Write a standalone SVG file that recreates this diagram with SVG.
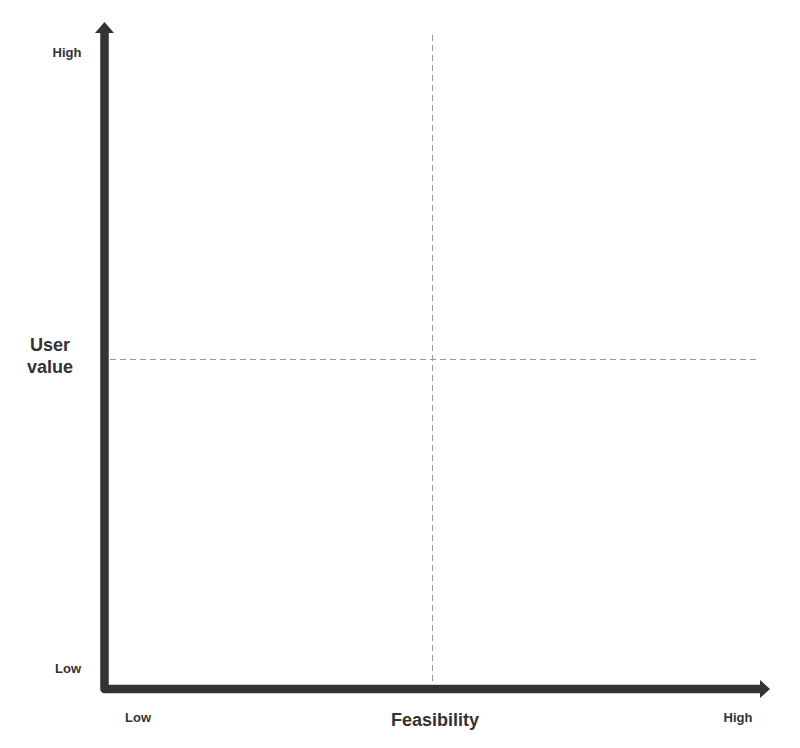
<svg xmlns="http://www.w3.org/2000/svg" width="800" height="748" viewBox="0 0 800 748">
<style>
.axis{stroke:#333;stroke-width:8.5;fill:none;stroke-linejoin:round}
.head{fill:#333}
.dash{stroke:#999;stroke-width:1;stroke-dasharray:6 4;fill:none}
.sm{font-family:"Liberation Sans",Arial,sans-serif;font-weight:bold;font-size:13px;fill:#333;text-anchor:middle}
.lg{font-family:"Liberation Sans",Arial,sans-serif;font-weight:bold;font-size:18px;fill:#333;text-anchor:middle}
</style>
<rect width="800" height="748" fill="#fff"/>
<g id="connectors">
<path class="dash" d="M432.5 35 V685"/>
<path class="dash" d="M110 359.5 H757"/>
<path class="axis" d="M104.5 32 V689 H761"/>
<polygon class="head" points="95,33 104.5,22 114,33"/>
<polygon class="head" points="760,680 770,689 760,698"/>
</g>
<g id="y-high"><text class="sm" x="67" y="57">High</text></g>
<g id="y-low"><text class="sm" x="68" y="673">Low</text></g>
<g id="y-label"><text class="lg" x="50" y="351">User</text><text class="lg" x="50" y="373">value</text></g>
<g id="x-low"><text class="sm" x="138" y="722">Low</text></g>
<g id="x-label"><text class="lg" x="435" y="726">Feasibility</text></g>
<g id="x-high"><text class="sm" x="738" y="722">High</text></g>
</svg>
